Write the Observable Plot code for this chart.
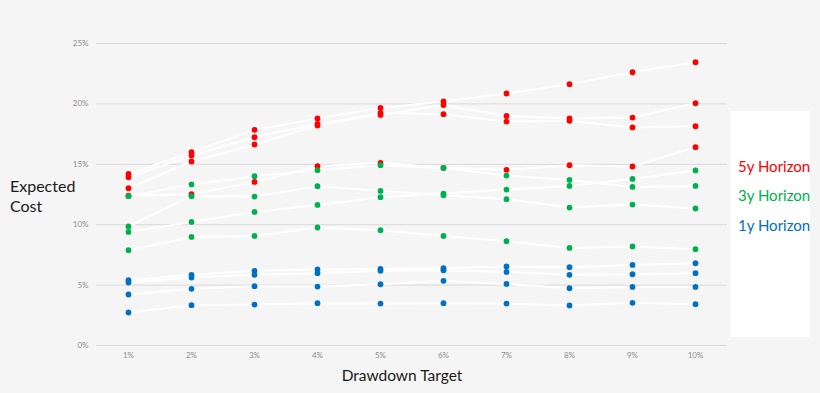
<!DOCTYPE html>
<html>
<head>
<meta charset="utf-8">
<script src="https://cdn.jsdelivr.net/npm/d3@7"></script>
<script src="https://cdn.jsdelivr.net/npm/@observablehq/plot@0.6"></script>
<style>
  html, body { margin: 0; padding: 0; background: #f5f5f5; }
  #wrap { position: relative; width: 820px; height: 393px; background: #f5f5f5; font-family: Lato, "Open Sans", sans-serif; overflow: hidden; }
  #chart { position: absolute; left: 0; top: 0; }
  .title { position: absolute; color: #1a1a1a; font-size: 16px; line-height: 19.5px; white-space: nowrap; }
  #legend { position: absolute; left: 730px; top: 111px; width: 80px; height: 226px; background: #ffffff; overflow: hidden; }
  .leg { position: absolute; left: 8px; font-size: 15px; line-height: 18px; white-space: nowrap; }
</style>
</head>
<body>
<div id="wrap">
  <div id="chart"></div>
  <div class="title" id="ylab" style="left:10px; top:176px;">Expected<br>Cost</div>
  <div class="title" id="xlab" style="left:0; width:804px; text-align:center; top:365.5px; font-size:15.5px;">Drawdown Target</div>
  <div id="legend"></div>
</div>
<script>
// ---- data ----
const drawdownTargets = ["1%", "2%", "3%", "4%", "5%", "6%", "7%", "8%", "9%", "10%"];
const yTicks = [0, 5, 10, 15, 20, 25];

const horizonNames = ["5y Horizon", "3y Horizon", "1y Horizon"];
const horizonColors = ["#FF0000", "#00B050", "#0070C0"];

const horizon5y = [
  [14.2, 16.0, 17.85, 18.8, 19.67, 20.2, 20.86, 21.63, 22.62, 23.45],
  [13.93, 15.73, 17.24, 18.35, 19.09, 19.9, 19.0, 18.79, 18.87, 20.06],
  [13.02, 15.23, 16.64, 18.21, 19.26, 19.15, 18.54, 18.6, 18.05, 18.15],
  [12.4, 12.52, 13.54, 14.84, 15.12, 14.7, 14.54, 14.93, 14.82, 16.42]
];
const horizon3y = [
  [12.36, 13.33, 14.01, 14.51, 14.93, 14.7, 14.07, 13.71, 13.13, 13.21],
  [9.85, 12.36, 12.33, 13.19, 12.8, 12.44, 12.11, 11.42, 11.67, 11.34],
  [9.4, 10.23, 11.06, 11.64, 12.28, 12.58, 12.91, 13.21, 13.79, 14.49],
  [7.89, 8.99, 9.07, 9.77, 9.54, 9.07, 8.63, 8.08, 8.2, 7.97]
];
const horizon1y = [
  [5.41, 5.85, 6.18, 6.29, 6.34, 6.4, 6.54, 6.48, 6.67, 6.81],
  [5.21, 5.63, 5.85, 5.99, 6.18, 6.23, 6.09, 5.85, 5.9, 5.99],
  [4.22, 4.69, 4.91, 4.88, 5.07, 5.35, 5.1, 4.74, 4.85, 4.85],
  [2.73, 3.34, 3.39, 3.5, 3.47, 3.5, 3.47, 3.31, 3.53, 3.42]
];

// ---- build table ----
const rows = [];
[horizon5y, horizon3y, horizon1y].forEach((group, gi) => {
  group.forEach((vals, si) => {
    vals.forEach((v, i) => {
      rows.push({horizon: horizonNames[gi], series: horizonNames[gi] + "-" + si, target: drawdownTargets[i], cost: v});
    });
  });
});

const chart = Plot.plot({
  width: 820,
  height: 393,
  marginLeft: 96,
  marginRight: 93,
  marginTop: 43,
  marginBottom: 48,
  style: {background: "transparent", fontFamily: "Lato, 'Open Sans', sans-serif", overflow: "visible"},
  x: {type: "point", domain: drawdownTargets, padding: 0.5},
  y: {domain: [0, 25]},
  color: {domain: horizonNames, range: horizonColors},
  marks: [
    Plot.gridY(yTicks, {stroke: "#d9d9d9", strokeOpacity: 1, strokeWidth: 1}),
    Plot.axisY(yTicks, {tickSize: 0, tickPadding: 8, tickFormat: d => d + "%", label: null, fill: "#8c8c8c", fontSize: 8}),
    Plot.axisX({tickSize: 0, tickPadding: 7, label: null, fill: "#8c8c8c", fontSize: 8}),
    Plot.line(rows, {x: "target", y: "cost", z: "series", stroke: "#ffffff", strokeWidth: 2}),
    Plot.dot(rows, {x: "target", y: "cost", fill: "horizon", r: 2.9})
  ]
});
document.getElementById("chart").appendChild(chart);

// ---- legend ----
const legend = document.getElementById("legend");
const legTops = [46, 75, 105];
horizonNames.forEach((name, i) => {
  const d = document.createElement("div");
  d.className = "leg";
  d.style.top = legTops[i] + "px";
  d.style.color = horizonColors[i];
  d.textContent = name;
  legend.appendChild(d);
});
</script>
</body>
</html>
